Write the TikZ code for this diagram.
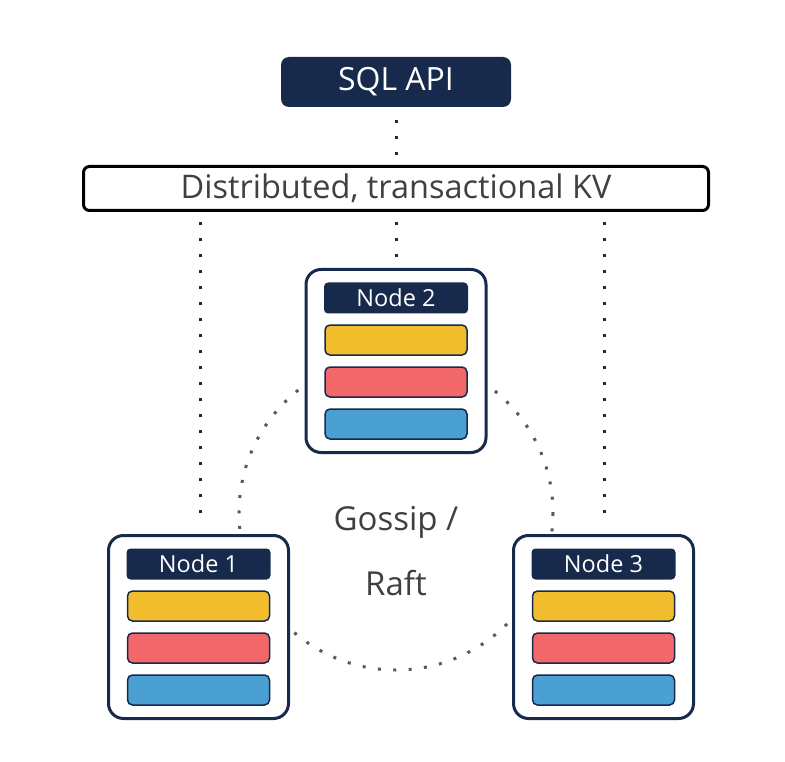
\documentclass[tikz,border=0pt]{standalone}
\usepackage{fontspec}
\setmainfont{Open Sans}
\definecolor{navy}{HTML}{172A4C}
\definecolor{ybar}{HTML}{F2BD2C}
\definecolor{rbar}{HTML}{F2686A}
\definecolor{bbar}{HTML}{4A9FD3}
\definecolor{txt}{HTML}{404040}
\definecolor{dotg}{HTML}{595959}
\begin{document}
\begin{tikzpicture}[x=1pt,y=-1pt,
  nodebox/.style={draw=navy,line width=3pt,fill=white,rounded corners=15pt,minimum width=180pt,minimum height=183pt,inner sep=0pt},
  lbl/.style={fill=navy,text=white,rounded corners=4pt,minimum width=144pt,minimum height=31pt,inner sep=0pt},
  lbltext/.style={text=white,font=\fontsize{23.5}{26}\selectfont},
  bar/.style={draw=navy,line width=1.5pt,rounded corners=5pt,minimum width=142pt,minimum height=30pt,inner sep=0pt},
  bigtext/.style={text=txt,font=\fontsize{33}{38}\selectfont},
  navydots/.style={draw=navy,line width=3pt,dash pattern=on 3pt off 13pt},
  graydots/.style={draw=dotg,line width=3pt,dash pattern=on 3pt off 12.4pt}]
\useasboundingbox (0,0) rectangle (785,762);
% gossip circle
\draw[graydots] (396,513) circle[radius=157];
\node[bigtext] (gossip) at (396,522) {Gossip /};
\node[bigtext] (raft) at (396,583) {Raft};
% top boxes
\node[fill=navy,text=white,rounded corners=8pt,minimum width=230pt,minimum height=50pt,inner sep=0pt,font=\fontsize{32}{36}\selectfont] (sql) at (396,82) {SQL API};
\node[draw=black,line width=3pt,fill=white,rounded corners=6pt,minimum width=625pt,minimum height=44pt,inner sep=0pt,text=txt,font=\fontsize{32.5}{36}\selectfont] (kv) at (396,188.5) {Distributed, transactional KV};
% cluster nodes
\node[nodebox] (n2) at (396,361) {};
\node[nodebox] (n1) at (198.5,627) {};
\node[nodebox] (n3) at (603.5,627) {};
\foreach \n in {n1,n2,n3}{
  \node[lbl] (\n l) at ([yshift=-30pt]\n.north) {};
  \node[bar,fill=ybar] (\n y) at ([yshift=-72pt]\n.north) {};
  \node[bar,fill=rbar] (\n r) at ([yshift=-114pt]\n.north) {};
  \node[bar,fill=bbar] (\n b) at ([yshift=-156pt]\n.north) {};
}
\node[lbltext] at (n1l) {Node 1};
\node[lbltext] at (n2l) {Node 2};
\node[lbltext] at (n3l) {Node 3};
% dotted connectors
\coordinate (kvl) at (200,212);
\coordinate (kvr) at (604,212);
\coordinate (e1) at (200,526);
\coordinate (e3) at (604,526);
\draw[navydots] ([yshift=-13pt]sql.south) -- (kv.north);
\draw[navydots] ([yshift=-10pt]kv.south) -- ([yshift=6pt]n2.north);
\draw[navydots] ([yshift=-10pt]kvl) -- (e1);
\draw[navydots] ([yshift=-10pt]kvr) -- (e3);
\end{tikzpicture}
\end{document}
